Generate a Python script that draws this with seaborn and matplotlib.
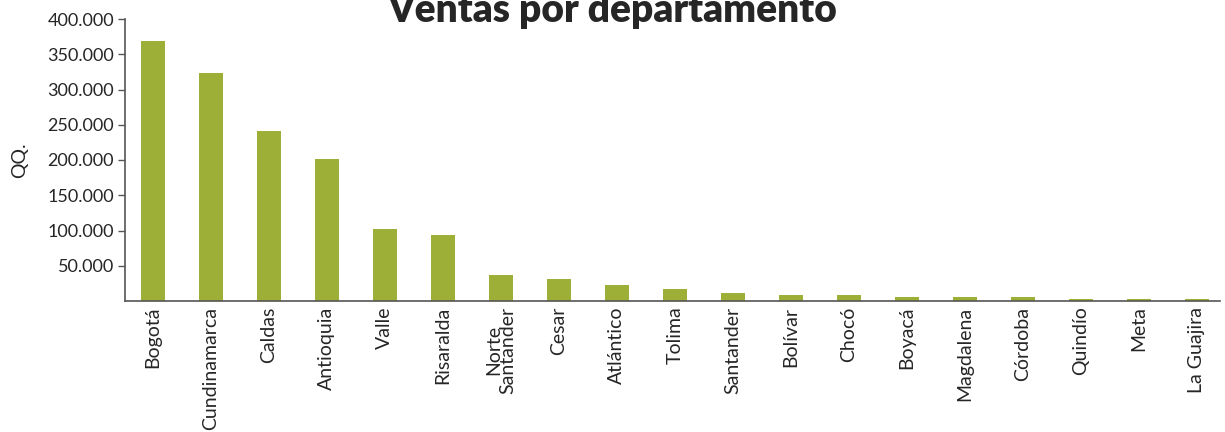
import matplotlib
matplotlib.use("Agg")
import matplotlib.pyplot as plt
import seaborn as sns
import pandas as pd
from matplotlib.ticker import FuncFormatter

departamentos = ["Bogotá", "Cundinamarca", "Caldas", "Antioquia", "Valle", "Risaralda",
                 "Norte\nSantander", "Cesar", "Atlántico", "Tolima", "Santander", "Bolívar",
                 "Chocó", "Boyacá", "Magdalena", "Córdoba", "Quindío", "Meta", "La Guajira"]
ventas = [369000, 323000, 241000, 201000, 102000, 93500, 37000, 31000, 22500, 17000,
          11000, 8500, 8500, 5700, 5700, 5700, 2800, 2800, 2800]
yticks = [50000, 100000, 150000, 200000, 250000, 300000, 350000, 400000]

sns.set_style("white")
plt.rcParams["font.family"] = ["Lato", "DejaVu Sans"]

df = pd.DataFrame({"dep": departamentos, "qq": ventas})

fig = plt.figure(figsize=(12.25, 4.32), dpi=100)
ax = fig.add_axes([125 / 1225, 1 - 301 / 432, 1095 / 1225, 282 / 432])
sns.barplot(data=df, x="dep", y="qq", color="#9daf37", width=0.42, saturation=1,
            linewidth=0, ax=ax)

ax.set_xlim(-0.48, 18.4)
ax.set_ylim(0, 400000)
ax.set_yticks(yticks)
ax.yaxis.set_major_formatter(FuncFormatter(lambda v, p: f"{int(v):,}".replace(",", ".")))
ax.tick_params(axis="y", length=5, width=1, color="#555555", labelsize=13, pad=3, left=True)
ax.tick_params(axis="x", length=0, labelsize=14, rotation=90, pad=4)
for lbl in ax.get_xticklabels():
    lbl.set_linespacing(0.85)
ax.set_xlabel("")
ax.set_ylabel("QQ.", fontsize=14, labelpad=14)
sns.despine(ax=ax)
for s in ["left", "bottom"]:
    ax.spines[s].set_color("#555555")
    ax.spines[s].set_linewidth(1.2)

fig.text(0.5, 1 - 22 / 432, "Ventas por departamento", ha="center", va="baseline",
         fontsize=28, fontweight="heavy")

fig.savefig("out.png", dpi=100)
